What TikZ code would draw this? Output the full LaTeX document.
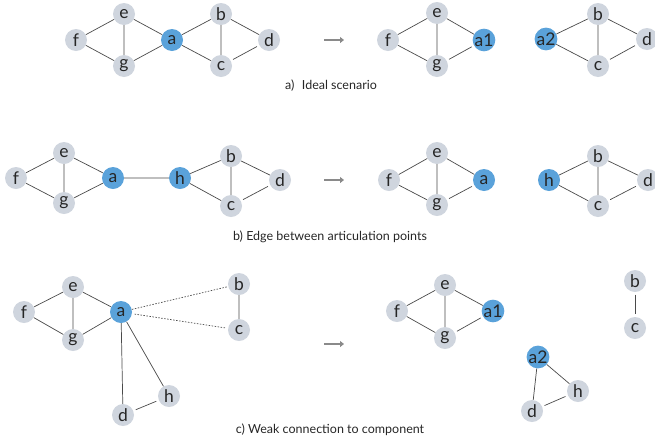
\documentclass[tikz,border=0pt]{standalone}
\usepackage{fontspec}
\setmainfont{Lato}
\usetikzlibrary{arrows.meta}
\definecolor{nodegray}{HTML}{CFD5DE}
\definecolor{nodeblue}{HTML}{5AA2DA}
\definecolor{edgegray}{HTML}{4A4A4A}
\definecolor{arrgray}{HTML}{8A8A8A}
\tikzset{
  vtx/.style={circle, fill=nodegray, minimum size=22pt, inner sep=0pt, font=\fontsize{17.5}{17.5}\selectfont, text=black!85},
  art/.style={vtx, fill=nodeblue},
  edg/.style={draw=edgegray, line width=0.7pt, shorten <=2.5pt, shorten >=2.5pt},
  weak/.style={edg, dash pattern=on 1.5pt off 1.5pt},
  trans/.style={draw=arrgray, line width=1.4pt, -{Triangle[length=4pt,width=6pt]}},
  captext/.style={font=\fontsize{12.5}{12.5}\selectfont, text=black!85}
}
\begin{document}
\begin{tikzpicture}[x=1pt,y=-1pt]
\useasboundingbox (0,0) rectangle (655,445);
% ---------- panel a ----------
\node[vtx] (af) at (76,40) {f};
\node[vtx] (ae) at (124,14) {e};
\node[vtx] (ag) at (124,66) {g};
\node[art] (aa) at (172,40) {a};
\node[vtx] (ab) at (221,14) {b};
\node[vtx] (ac) at (221,66) {c};
\node[vtx] (ad) at (269,40) {d};
\path[edg] (af)--(ae) (af)--(ag) (ae)--(ag) (ae)--(aa) (ag)--(aa) (aa)--(ab) (aa)--(ac) (ab)--(ac) (ab)--(ad) (ac)--(ad);
\coordinate (aas) at (324,40); \coordinate (aat) at (344,40);
\draw[trans] (aas)--(aat);
\node[vtx] (af2) at (388,40) {f};
\node[vtx] (ae2) at (437,13) {e};
\node[vtx] (ag2) at (437,66) {g};
\node[art] (aa1) at (484,40) {a1};
\path[edg] (af2)--(ae2) (af2)--(ag2) (ae2)--(ag2) (ae2)--(aa1) (ag2)--(aa1);
\node[art] (aa2) at (546,39) {a2};
\node[vtx] (ab2) at (598,14) {b};
\node[vtx] (ac2) at (598,66) {c};
\node[vtx] (ad2) at (647,39) {d};
\path[edg] (aa2)--(ab2) (aa2)--(ac2) (ab2)--(ac2) (ab2)--(ad2) (ac2)--(ad2);
\node[captext] (acap) at (331,86) {a)\hspace{0.6em}Ideal scenario};
% ---------- panel b ----------
\node[vtx] (bf) at (16,178) {f};
\node[vtx] (be) at (64,153) {e};
\node[vtx] (bg) at (64,203) {g};
\node[art] (ba) at (113,178) {a};
\node[art] (bh) at (180,178) {h};
\node[vtx] (bb) at (231,156) {b};
\node[vtx] (bc) at (231,206) {c};
\node[vtx] (bd) at (280,180) {d};
\path[edg] (bf)--(be) (bf)--(bg) (be)--(bg) (be)--(ba) (bg)--(ba) (ba)--(bh) (bh)--(bb) (bh)--(bc) (bb)--(bc) (bb)--(bd) (bc)--(bd);
\coordinate (bas) at (324,180); \coordinate (bat) at (344,180);
\draw[trans] (bas)--(bat);
\node[vtx] (bf2) at (389,180) {f};
\node[vtx] (be2) at (437,153) {e};
\node[vtx] (bg2) at (437,205) {g};
\node[art] (ba2) at (484,180) {a};
\path[edg] (bf2)--(be2) (bf2)--(bg2) (be2)--(bg2) (be2)--(ba2) (bg2)--(ba2);
\node[art] (bh2) at (549,180) {h};
\node[vtx] (bb2) at (598,156) {b};
\node[vtx] (bc2) at (598,206) {c};
\node[vtx] (bd2) at (648,180) {d};
\path[edg] (bh2)--(bb2) (bh2)--(bc2) (bb2)--(bc2) (bb2)--(bd2) (bc2)--(bd2);
\node[captext] (bcap) at (330,237) {b) Edge between articulation points};
% ---------- panel c ----------
\node[vtx] (cf) at (24,312) {f};
\node[vtx] (ce) at (73,287) {e};
\node[vtx] (cg) at (73,340) {g};
\node[art] (ca) at (121,312) {a};
\node[vtx] (cb) at (239,284) {b};
\node[vtx] (cc) at (239,330) {c};
\node[vtx] (ch) at (169,396) {h};
\node[vtx] (cd) at (123,415) {d};
\path[edg] (cf)--(ce) (cf)--(cg) (ce)--(cg) (ce)--(ca) (cg)--(ca) (cb)--(cc) (ca)--(ch) (ca)--(cd) (cd)--(ch);
\path[weak] (ca)--(cb) (ca)--(cc);
\coordinate (cas) at (324,344); \coordinate (cat) at (344,344);
\draw[trans] (cas)--(cat);
\node[vtx] (cf2) at (397,311) {f};
\node[vtx] (ce2) at (445,285) {e};
\node[vtx] (cg2) at (445,338) {g};
\node[art] (ca1) at (493,311) {a1};
\path[edg] (cf2)--(ce2) (cf2)--(cg2) (ce2)--(cg2) (ce2)--(ca1) (cg2)--(ca1);
\node[vtx] (cb2) at (635,281) {b};
\node[vtx] (cc2) at (635,328) {c};
\path[edg] (cb2)--(cc2);
\node[art] (ca2) at (538,357) {a2};
\node[vtx] (ch2) at (578,391) {h};
\node[vtx] (cd2) at (532,411) {d};
\path[edg] (ca2)--(ch2) (ca2)--(cd2) (cd2)--(ch2);
\node[captext] (ccap) at (330,430) {c) Weak connection to component};
\end{tikzpicture}
\end{document}
